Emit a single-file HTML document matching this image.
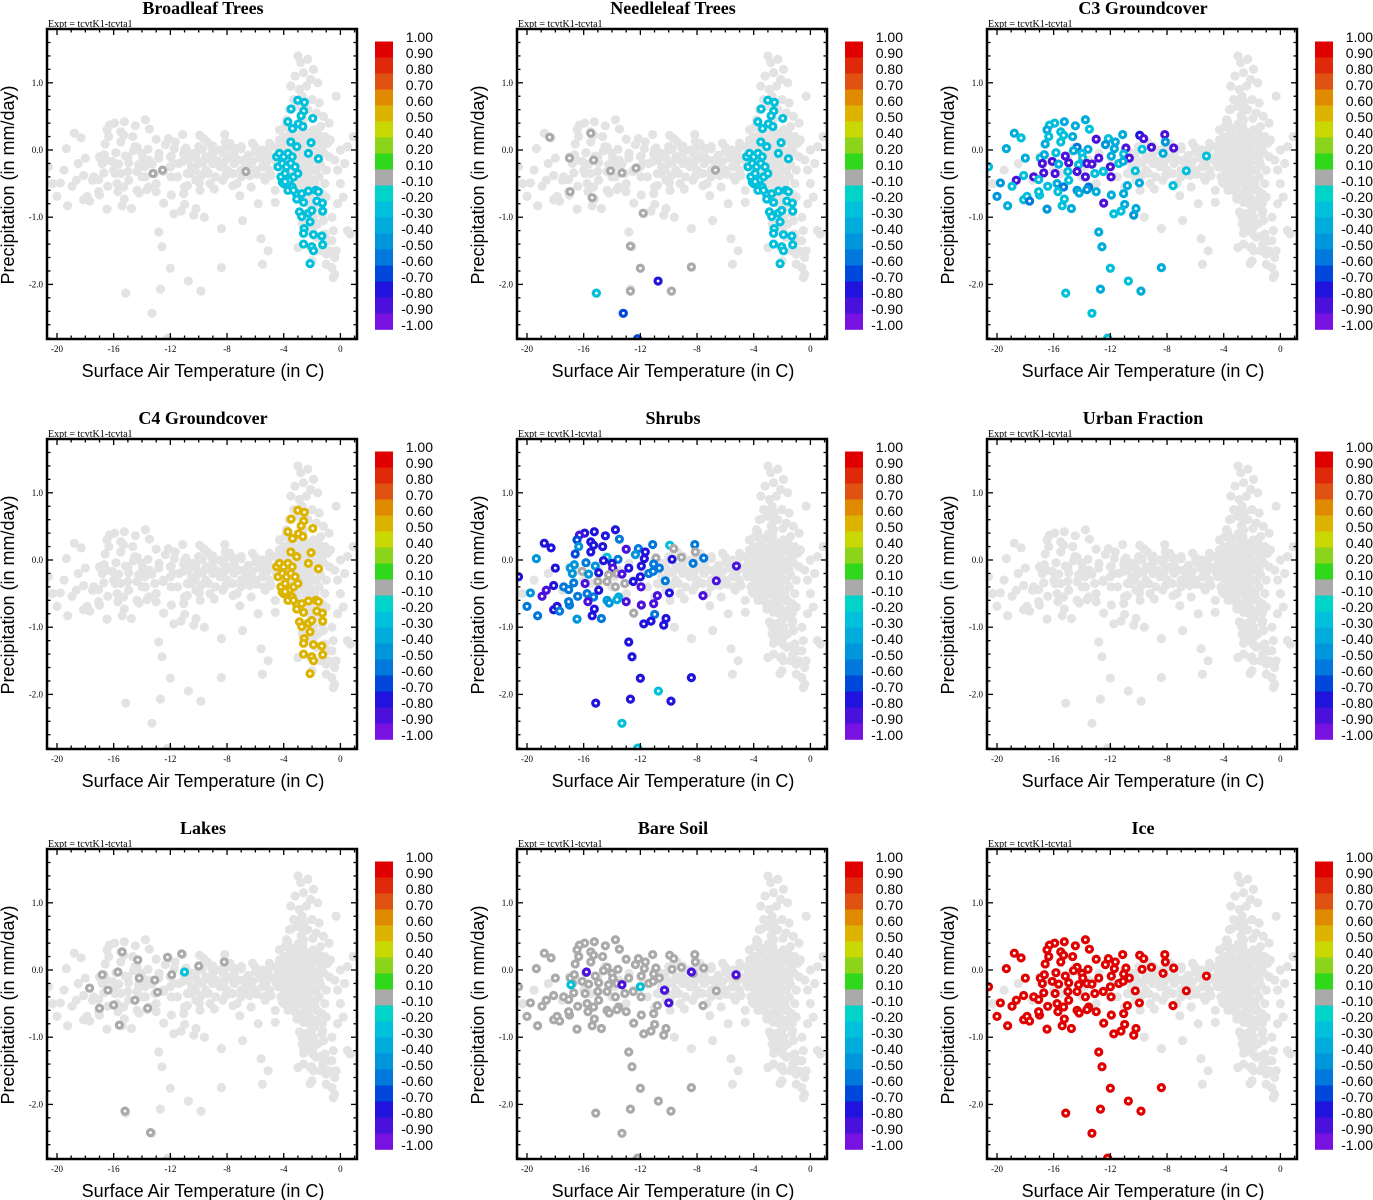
<!DOCTYPE html>
<html><head><meta charset="utf-8"><style>
html,body{margin:0;padding:0;background:#fff}
svg{display:block}
</style></head><body>
<svg id="fig" xmlns="http://www.w3.org/2000/svg" width="1373" height="1200" viewBox="0 0 1373 1200"></svg>
<script>
// ---- data ----
const xTicks = [-20,-16,-12,-8,-4,0];
const yTicks = [1.0,0.0,-1.0,-2.0];
const yTickLabels = ["1.0","0.0","-1.0","-2.0"];
const cbLabels = ["1.00","0.90","0.80","0.70","0.60","0.50","0.40","0.20","0.10","-0.10","-0.20","-0.30","-0.40","-0.50","-0.60","-0.70","-0.80","-0.90","-1.00"];
const cbBounds = [1.0,0.9,0.8,0.7,0.6,0.5,0.4,0.2,0.1,-0.1,-0.2,-0.3,-0.4,-0.5,-0.6,-0.7,-0.8,-0.9,-1.0];
const cbColors = ["#e00000","#e0280a","#e05212","#e08a00","#dcb400","#c8d800","#8cd41c","#30d81c","#aaaaaa","#00d4c8","#00c0dc","#00acdc","#0096dc","#0078dc","#0048dc","#2014dc","#4a10dc","#7812e0"];
const panelTitles = ["Broadleaf Trees","Needleleaf Trees","C3 Groundcover","C4 Groundcover","Shrubs","Urban Fraction","Lakes","Bare Soil","Ice"];

// background gray cloud (shared)
const bgT = [-10.5,-10,-9.5,-9,-8.5,-8,-7.5,-7,-6.5,-6,-5.5,-5,-4.5,-10.5,-10,-9.5,-9,-8.5,-8,-7.5,-7,-6.5,-6,-5.5,-5,-4.5,-10.2,-9.2,-8.3,-7.3,-6.3,-5.3,-4.6,-9.9,-8.9,-7.1,-5.8,-4.6,-9.6,-8.4,-6.9,-5.6,-5.1,-5.5,-6.7,-7.8,-9.4,-6.2,-5.0,-4.0,-4.3,
 -3.0,-2.8,-2.3,-1.9,-3.2,-2.6,-2.1,-3.5,-2.9,-2.4,-1.6,-3.3,-2.7,-2.0,-1.5,-3.6,-3.0,-2.3,-1.7,-1.2,-0.3,-3.8,-2.6,-1.4,-0.8,
 -4.3,-3.9,-3.5,-3.1,-2.7,-2.3,-1.9,-1.5,-1.1,-0.7,-4.1,-3.7,-3.3,-2.9,-2.5,-2.1,-1.7,-1.3,-0.9,-4.4,-4.0,-3.6,-3.2,-2.8,-2.4,-2.0,-1.6,-1.2,-0.8,-4.2,-3.8,-3.4,-3.0,-2.6,-2.2,-1.8,-1.4,-1.0,-4.0,-3.5,-3.1,-2.7,-2.3,-1.9,-1.5,-1.1,-3.3,-2.5,-1.7,-1.3,
 -2.2,-1.6,-1.0,-2.5,-1.9,-1.3,-0.6,-2.3,-1.7,-1.1,-0.5,-2.1,-1.4,-0.8,-0.3,-1.0,-0.6,-0.5,-0.4,-2.0,-3.0,-0.2,0.2,0.5,0.7,
 0.0,0.5,0.9,-0.4,0.3,-0.2,0.0,
 -17,-16,-15,-14,-13,-12,-11,-12.5,-11.5,-13.5,-14.5,-10.8,-11,-18.5,-19.5,-20.3,-17.5,-16.5,-15.5,-13.8,-12.8,-11.8];
const bgP = [-0.05,0,-0.1,-0.05,0,-0.1,-0.05,0.02,-0.08,-0.03,0,-0.1,0.05,-0.25,-0.2,-0.3,-0.2,-0.25,-0.3,-0.2,-0.3,-0.22,-0.3,-0.25,-0.3,-0.2,-0.45,-0.5,-0.45,-0.5,-0.55,-0.45,-0.6,-0.6,-0.58,-0.68,-0.8,-0.78,-1.0,-1.17,-1.05,-1.32,-1.5,-1.7,-0.2,0.1,0.12,0.1,0.1,0.08,0.15,
 1.4,1.3,1.35,1.2,1.1,1.15,1.05,0.95,0.9,0.95,1.0,0.75,0.8,0.75,0.7,0.6,0.65,0.6,0.55,0.5,0.8,0.45,0.45,0.35,0.4,
 0.3,0.35,0.28,0.32,0.3,0.25,0.3,0.22,0.2,0.15,0.12,0.15,0.1,0.12,0.08,0.1,0.12,0.05,0.1,-0.05,-0.08,-0.02,-0.05,-0.1,-0.03,-0.06,-0.1,-0.04,-0.1,-0.25,-0.2,-0.28,-0.22,-0.25,-0.2,-0.3,-0.22,-0.3,-0.42,-0.4,-0.45,-0.38,-0.42,-0.45,-0.4,-0.5,-0.6,-0.62,-0.58,-0.65,
 -0.8,-0.75,-0.7,-0.95,-1.0,-0.95,-1.0,-1.2,-1.3,-1.25,-1.2,-1.45,-1.5,-1.5,-1.5,-1.7,-1.75,-1.9,-1.85,-1.65,-1.45,-0.8,-0.7,-1.2,-1.25,
 0.0,0.05,0.2,-0.15,-0.2,-0.3,-0.5,
 -0.1,-0.3,-0.1,-0.4,-0.5,-0.1,0,-0.3,-0.4,-0.15,0.05,-0.35,-0.55,-0.2,-0.3,-0.5,-0.45,-0.15,-0.35,-0.25,-0.05,-0.2];
// extra fill of the dense part of the cloud
const bg2T = [-10.8,-10.2,-9.7,-9.2,-8.7,-8.2,-7.7,-7.2,-6.7,-6.2,-5.7,-5.2,-4.8,-10.6,-9.8,-9.3,-8.8,-8.1,-7.6,-7.0,-6.4,-5.9,-5.4,-4.9,-10.0,-9.0,-8.0,-7.0,-6.0,-5.0,
 -4.0,-3.6,-3.2,-2.8,-2.4,-2.0,-1.6,-1.2,-4.2,-3.8,-3.4,-3.0,-2.6,-2.2,-1.8,-1.4,-3.9,-3.5,-3.1,-2.7,-2.3,-1.9,-1.5,-3.7,-3.3,-2.9,-2.5,-2.1,-1.7,-3.4,-3.0,-2.6,-2.2,-1.8,-2.9,-2.5,-2.1,-1.8,-2.7,-2.3,-1.9,-1.6,-1.2,-0.9,-0.6,-1.0,-0.4];
const bg2P = [-0.15,-0.12,-0.18,-0.14,-0.16,-0.18,-0.12,-0.15,-0.14,-0.17,-0.12,-0.18,-0.12,-0.35,-0.38,-0.35,-0.4,-0.38,-0.35,-0.4,-0.38,-0.36,-0.4,-0.38,0.05,0.06,0.04,0.05,0.04,0.03,
 0.2,0.22,0.18,0.2,0.2,0.18,0.15,0.12,0.0,0.02,-0.02,0.0,0.0,0.02,-0.02,0.0,-0.15,-0.15,-0.12,-0.15,-0.14,-0.16,-0.15,-0.32,-0.3,-0.33,-0.3,-0.32,-0.3,-0.5,-0.52,-0.5,-0.52,-0.5,-0.7,-0.68,-0.72,-0.85,-1.1,-1.05,-1.15,-1.1,-1.05,-1.35,-1.35,-1.55,-1.6];

// warm cluster (broadleaf / needleleaf / C4)
const warmT = [-3.01,-2.54,-3.48,-2.59,-2.77,-1.95,-3.71,-2.96,-2.65,-3.38,-3.5,-3.08,-2.07,-2.26,-1.55,
 -4.5,-4.3,-4.0,-3.7,-3.4,-4.4,-4.1,-3.8,-3.5,-3.2,-4.2,-3.9,-3.6,-3.3,-3.0,-4.0,-3.7,-3.4,-3.1,-4.1,
 -3.9,-3.31,-2.73,-2.26,-1.74,-1.55,-3.08,-2.6,-1.66,-1.27,-1.25,-2.89,-2.26,-2.02,-2.73,-2.14,-2.56,-2.6,-1.9,-1.31,-2.6,-2.02,-1.9,-1.25,-2.14];
const warmP = [0.74,0.71,0.61,0.58,0.51,0.47,0.42,0.39,0.35,0.32,0.12,0.05,0.11,-0.05,-0.13,
 -0.1,-0.05,-0.1,-0.05,-0.1,-0.25,-0.2,-0.25,-0.2,-0.25,-0.4,-0.35,-0.45,-0.4,-0.35,-0.5,-0.6,-0.55,-0.65,-0.48,
 -0.47,-0.6,-0.65,-0.61,-0.6,-0.62,-0.73,-0.78,-0.76,-0.79,-0.91,-0.92,-0.94,-0.9,-0.99,-1.07,-1.17,-1.24,-1.26,-1.28,-1.4,-1.44,-1.5,-1.41,-1.69];
const broadleafValue = -0.25;
const c4Value = 0.55;
const broadleafExtraT = [-13.23,-12.55,-6.67];
const broadleafExtraP = [-0.35,-0.3,-0.32];
const broadleafExtraV = [0,0,0];
const needleExtraT = [-18.4,-15.5,-17.0,-15.3,-16.96,-15.4,-14.1,-13.3,-12.3,-6.7,-11.8,-12.7,-12.0,-8.4,-9.8,-12.7,-15.1,-13.2,-10.75,-12.2];
const needleExtraP = [0.19,0.25,-0.12,-0.15,-0.62,-0.71,-0.31,-0.34,-0.27,-0.3,-0.94,-1.43,-1.76,-1.74,-2.1,-2.1,-2.13,-2.43,-1.95,-2.81];
const needleExtraV = [0,0,0,0,0,0,0,0,0,0,0,0,0,0,0,0,-0.25,-0.65,-0.75,-0.65];

// cold cluster (C3 / shrubs / bare soil / ice)
const coldT = [-13.76,-15.25,-15.93,-16.3,-14.47,-13.48,-18.78,-18.3,-16.47,-16.35,-15.5,-15.3,-14.66,-15.5,-16.6,-13.0,-12.14,-11.65,-12.35,-11.13,-9.93,-9.65,-8.16,-8.12,-19.34,-14.35,-13.58,-11.72,-10.9,-9.76,-9.1,-7.53,-15.84,-14.6,-14.0,-18.0,-16.94,-16.66,-15.18,-13.95,-12.82,-11.93,-11.06,-10.66,-8.28,-5.22,-20.6,-16.8,-16.1,-15.65,-14.94,-14.24,-13.65,-13.3,-12.0,-11.4,-11.1,-18.12,-17.41,-16.7,-15.9,-15.0,-14.35,-13.76,-13.1,-12.5,-11.95,-10.24,-6.64,-19.76,-18.64,-18.94,-17.06,-16.42,-15.76,-15.3,-14.94,-13.53,-9.95,-10.8,-7.58,-20.0,-19.25,-18.12,-17.88,-17.7,-17.0,-17.06,-16.47,-15.7,-15.25,-15.4,-14.75,-14.35,-14.2,-13.65,-13.0,-12.47,-11.93,-11.06,-10.99,-11.76,-11.25,-10.35,-10.19,-12.82,-12.59,-12.0,-8.4,-10.73,-12.7,-9.84,-15.15,-13.3,-12.19];
const coldP = [0.45,0.42,0.40,0.37,0.36,0.31,0.25,0.18,0.30,0.20,0.27,0.22,0.20,0.12,0.09,0.16,0.17,0.12,0.08,0.23,0.22,0.17,0.23,0.12,0.02,0.04,0.01,0.02,0.03,0.01,0.04,0.03,-0.04,-0.01,-0.05,-0.12,-0.12,-0.07,-0.09,-0.12,-0.12,-0.09,-0.06,-0.12,-0.05,-0.09,-0.25,-0.2,-0.17,-0.21,-0.19,-0.22,-0.2,-0.21,-0.25,-0.2,-0.17,-0.38,-0.40,-0.34,-0.35,-0.32,-0.32,-0.40,-0.35,-0.32,-0.40,-0.31,-0.31,-0.49,-0.45,-0.54,-0.44,-0.54,-0.50,-0.55,-0.45,-0.55,-0.49,-0.53,-0.53,-0.69,-0.83,-0.74,-0.69,-0.76,-0.67,-0.62,-0.88,-0.62,-0.73,-0.83,-0.87,-0.6,-0.64,-0.59,-0.62,-0.79,-0.67,-0.65,-0.81,-0.95,-0.91,-0.97,-0.87,-1.22,-1.44,-1.76,-1.75,-1.95,-2.07,-2.10,-2.13,-2.43,-2.80];
const c3V = [-0.35,-0.35,-0.3,-0.3,-0.4,-0.3,-0.35,-0.25,-0.35,-0.3,-0.25,-0.3,-0.35,-0.3,-0.35,-0.85,-0.25,-0.35,-0.45,-0.4,-0.8,-0.85,-0.85,-0.5,-0.4,-0.55,-0.4,-0.35,-0.85,-0.3,-0.85,-0.85,-0.3,-0.35,-0.3,-0.4,-0.25,-0.4,-0.85,-0.3,-0.85,-0.35,-0.3,-0.85,-0.35,-0.25,-0.25,-0.85,-0.85,-0.35,-0.85,-0.25,-0.85,-0.85,-0.85,-0.3,-0.35,-0.3,-0.85,-0.85,-0.85,-0.3,-0.85,-0.85,-0.25,-0.3,-0.85,-0.25,-0.25,-0.45,-0.85,-0.3,-0.3,-0.3,-0.35,-0.6,-0.3,-0.55,-0.35,-0.35,-0.25,-0.45,-0.35,-0.3,-0.3,-0.55,-0.3,-0.3,-0.5,-0.25,-0.3,-0.3,-0.35,-0.45,-0.4,-0.45,-0.35,-0.85,-0.35,-0.35,-0.35,-0.3,-0.3,-0.45,-0.35,-0.35,-0.35,-0.3,-0.35,-0.25,-0.35,-0.35,-0.3,-0.25,-0.25];
const shrubV = [-0.75,-0.75,-0.75,-0.85,-0.75,-0.6,-0.75,-0.8,-0.65,-0.5,-0.75,-0.75,-0.8,-0.8,-0.65,-0.85,-0.6,-0.8,-0.5,-0.6,-0.25,0,-0.55,0,-0.5,-0.25,-0.55,-0.75,0,-0.75,0,-0.55,-0.55,-0.75,-0.75,-0.75,-0.5,-0.45,-0.5,-0.85,-0.8,-0.75,-0.55,-0.55,-0.55,-0.85,-0.75,-0.5,0,-0.45,-0.8,0,0,-0.85,-0.8,-0.55,-0.55,-0.8,-0.55,-0.55,-0.85,0,0,0,0,-0.75,-0.85,-0.55,-0.85,-0.45,-0.85,-0.85,-0.55,-0.55,-0.55,-0.55,-0.75,-0.35,-0.75,-0.85,-0.85,-0.55,-0.55,-0.75,-0.75,-0.55,-0.55,-0.55,-0.45,-0.85,-0.75,-0.75,-0.55,-0.45,-0.45,-0.35,-0.85,0,-0.85,-0.85,-0.55,-0.8,-0.8,-0.75,-0.8,-0.8,-0.8,-0.8,-0.8,-0.25,-0.8,-0.75,-0.75,-0.25,-0.25];
const iceValue = 0.95;
const bareValue = 0;
const bareExtraT = [-15.8,-13.3,-10.3,-10.0,-8.4,-5.25,-16.9,-12.0];
const bareExtraP = [-0.03,-0.22,-0.3,-0.49,-0.03,-0.07,-0.22,-0.25];
const bareExtraV = [-0.85,-0.85,-0.85,-0.85,-0.85,-0.85,-0.25,-0.25];

// lakes
const lakeT = [-15.4,-14.3,-12.2,-11.2,-10.0,-8.2,-16.8,-15.7,-14.2,-13.1,-11.9,-11.0,-17.7,-16.4,-14.5,-12.9,-17.0,-16.0,-15.6,-13.6,-15.2,-13.4];
const lakeP = [0.27,0.15,0.19,0.24,0.06,0.12,-0.07,-0.03,-0.12,-0.15,-0.07,-0.03,-0.27,-0.3,-0.45,-0.33,-0.57,-0.52,-0.82,-0.57,-2.1,-2.42];
const lakeV = [0,0,0,0,0,0,0,0,0,0,0,-0.25,0,0,0,0,0,0,0,0,0,0];

// ---- drawing ----
const NS = "http://www.w3.org/2000/svg";
const svg = document.getElementById("fig");
function mk(tag, attrs, parent){ const e=document.createElementNS(NS,tag); for(const k in attrs) e.setAttribute(k,attrs[k]); (parent||svg).appendChild(e); return e; }
function colorOf(v){ for(let i=0;i<cbColors.length;i++){ if(v<=cbBounds[i] && v>=cbBounds[i+1]) return cbColors[i]; } return v>0?cbColors[0]:cbColors[17]; }
const PX0=47, PX1=357, PY0=29, PY1=339;
function xs(t){ return 57 + (t+20)*14.17; }
function ys(p){ return 150 - p*67.2; }

const defs = mk("defs",{});
const cp = mk("clipPath",{id:"plotclip"},defs);
mk("rect",{x:PX0,y:PY0,width:PX1-PX0,height:PY1-PY0},cp);

function grayDots(T,P,parent){
  for(let i=0;i<T.length;i++){
    const c = mk("circle",{cx:xs(T[i]),cy:ys(P[i]),r:4.6,fill:"#e3e3e3"},parent);
    
    
  }
}

function panel(idx, overlays){
  const ox = (idx%3)*470, oy = Math.floor(idx/3)*410;
  const g = mk("g",{transform:`translate(${ox},${oy})`});
  
  
  const title = mk("text",{x:203,y:14,"text-anchor":"middle","font-family":"Liberation Serif, serif","font-size":"18","font-weight":"bold"},g);
  title.textContent = panelTitles[idx];
  
  
  const ex = mk("text",{x:48,y:27,"font-family":"Liberation Serif, serif","font-size":"10"},g);
  ex.textContent = "Expt = tcvtK1-tcvta1";
  
  
  const pts = mk("g",{"clip-path":"url(#plotclip)"},g);
  
  
  grayDots(bgT,bgP,pts);
  grayDots(bg2T,bg2P,pts);
  grayDots(coldT,coldP,pts);
  grayDots(warmT,warmP,pts);
  overlays.forEach(o=>{
    for(let i=0;i<o.T.length;i++){
      const v = Array.isArray(o.V)? o.V[i] : o.V;
      const c = mk("circle",{cx:xs(o.T[i]),cy:ys(o.P[i]),r:3.0,fill:"#fff",stroke:colorOf(v),"stroke-width":3.2},pts);
      
      
    }
  });
  // ticks
  const tk = mk("g",{stroke:"#000","stroke-width":1.3},g);
  
  
  for(let t=-20;t<=1;t++){
    const major = (t%4===0);
    const L = major?6:3.5;
    mk("line",{x1:xs(t),x2:xs(t),y1:PY1,y2:PY1-L},tk);
    mk("line",{x1:xs(t),x2:xs(t),y1:PY0,y2:PY0+L},tk);
  }
  for(let k=-14;k<=9;k++){
    const p=k/5, major=(k%5===0), L=major?6:3.5;
    mk("line",{x1:PX0,x2:PX0+L,y1:ys(p),y2:ys(p)},tk);
    mk("line",{x1:PX1,x2:PX1-L,y1:ys(p),y2:ys(p)},tk);
  }
  const box = mk("rect",{x:PX0,y:PY0,width:PX1-PX0,height:PY1-PY0,fill:"none",stroke:"#000","stroke-width":2.5},g);
  
  
  xTicks.forEach(t=>{
    const l = mk("text",{x:xs(t),y:352,"text-anchor":"middle","font-family":"Liberation Serif, serif","font-size":"9"},g);
    l.textContent = String(t);
    
    
  });
  yTicks.forEach((p,i)=>{
    const l = mk("text",{x:43,y:ys(p)+3,"text-anchor":"end","font-family":"Liberation Serif, serif","font-size":"9"},g);
    l.textContent = yTickLabels[i];
    
    
  });
  const xt = mk("text",{x:203,y:377,"text-anchor":"middle","font-family":"Liberation Sans, sans-serif","font-size":"18"},g);
  xt.textContent = "Surface Air Temperature (in C)";
  
  
  const yt = mk("text",{x:0,y:0,transform:"translate(14,185) rotate(-90)","text-anchor":"middle","font-family":"Liberation Sans, sans-serif","font-size":"18"},g);
  yt.textContent = "Precipitation (in mm/day)";
  
  
  // colorbar
  const cb = mk("g",{},g);
  
  
  for(let i=0;i<cbColors.length;i++){
    const r = mk("rect",{x:375,y:41.5+i*16,width:18,height:16.3,fill:cbColors[i]},cb);
    
    
  }
  cbLabels.forEach((s,i)=>{
    const l = mk("text",{x:433,y:41.5+i*16+0.5,"text-anchor":"end","font-family":"Liberation Sans, sans-serif","font-size":"14"},cb);
    l.textContent = s;
    
    
  });
}

panel(0,[{T:warmT,P:warmP,V:broadleafValue},{T:broadleafExtraT,P:broadleafExtraP,V:broadleafExtraV}]);
panel(1,[{T:needleExtraT,P:needleExtraP,V:needleExtraV},{T:warmT,P:warmP,V:broadleafValue}]);
panel(2,[{T:coldT,P:coldP,V:c3V}]);
panel(3,[{T:warmT,P:warmP,V:c4Value}]);
panel(4,[{T:coldT,P:coldP,V:shrubV}]);
panel(5,[]);
panel(6,[{T:lakeT,P:lakeP,V:lakeV}]);
panel(7,[{T:coldT,P:coldP,V:bareValue},{T:bareExtraT,P:bareExtraP,V:bareExtraV}]);
panel(8,[{T:coldT,P:coldP,V:iceValue}]);
</script>
</body></html>
